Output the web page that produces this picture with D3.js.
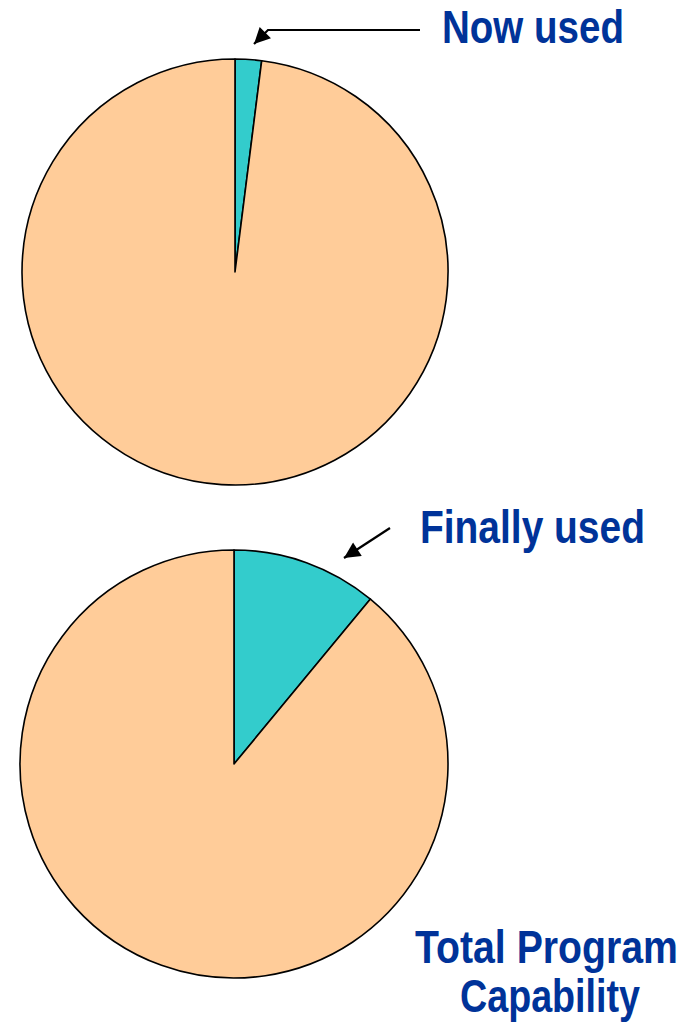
<!DOCTYPE html>
<html>
<head>
<meta charset="utf-8">
<script src="https://cdn.jsdelivr.net/npm/d3@7"></script>
<style>
  html, body { margin: 0; padding: 0; background: #fff; }
  svg { display: block; }
  text { font-family: "Liberation Sans", Arial, sans-serif; font-weight: bold; fill: #003399; }
</style>
</head>
<body>
<svg id="chart" width="690" height="1032"></svg>
<script>
// Share of program capability in use (percent)
const sliceNames = ["Used", "Unused"];
const nowValues = [2, 98];
const finalValues = [11, 89];
const sliceColors = ["#33CCCC", "#FFCC99"];
const calloutLabels = ["Now used", "Finally used"];
const totalLabel = ["Total Program", "Capability"];

const svg = d3.select("#chart");

const defs = svg.append("defs");
defs.append("marker")
  .attr("id", "head")
  .attr("viewBox", "0 0 10 10")
  .attr("refX", 10).attr("refY", 5)
  .attr("markerWidth", 20).attr("markerHeight", 16)
  .attr("markerUnits", "userSpaceOnUse")
  .attr("orient", "auto")
  .append("path")
  .attr("d", "M0,0 L10,5 L0,10 Z")
  .attr("fill", "#000");

const pie = d3.pie().sort(null).value(d => d);
const color = d3.scaleOrdinal().domain(sliceNames).range(sliceColors);

function drawPie(values, cx, cy, r) {
  const arc = d3.arc().innerRadius(0).outerRadius(r);
  const g = svg.append("g").attr("transform", `translate(${cx},${cy})`);
  g.selectAll("path")
    .data(pie(values))
    .join("path")
    .attr("d", arc)
    .attr("fill", (d, i) => color(sliceNames[i]))
    .attr("stroke", "#000")
    .attr("stroke-width", 1.6)
    .attr("stroke-linejoin", "round");
}

drawPie(nowValues, 235, 272, 213);
drawPie(finalValues, 234, 764, 214);

// Callout arrows
svg.append("path")
  .attr("d", "M420,30 L268,30 L254,44")
  .attr("fill", "none")
  .attr("stroke", "#000")
  .attr("stroke-width", 2.2)
  .attr("marker-end", "url(#head)");

svg.append("path")
  .attr("d", "M390,528 L344,558")
  .attr("fill", "none")
  .attr("stroke", "#000")
  .attr("stroke-width", 2.2)
  .attr("marker-end", "url(#head)");

// Condensed bold labels: squeeze horizontally to the given width
function label(txt, x, y, width) {
  const g = svg.append("g");
  const t = g.append("text")
    .attr("x", 0).attr("y", 0)
    .attr("font-size", 47)
    .text(txt);
  const natural = t.node().getComputedTextLength();
  g.attr("transform", `translate(${x},${y}) scale(${width / natural},1)`);
}
label(calloutLabels[0], 442, 43, 182);
label(calloutLabels[1], 420, 543, 225);
label(totalLabel[0], 415, 963, 263);
label(totalLabel[1], 460, 1012, 180);
</script>
</body>
</html>
